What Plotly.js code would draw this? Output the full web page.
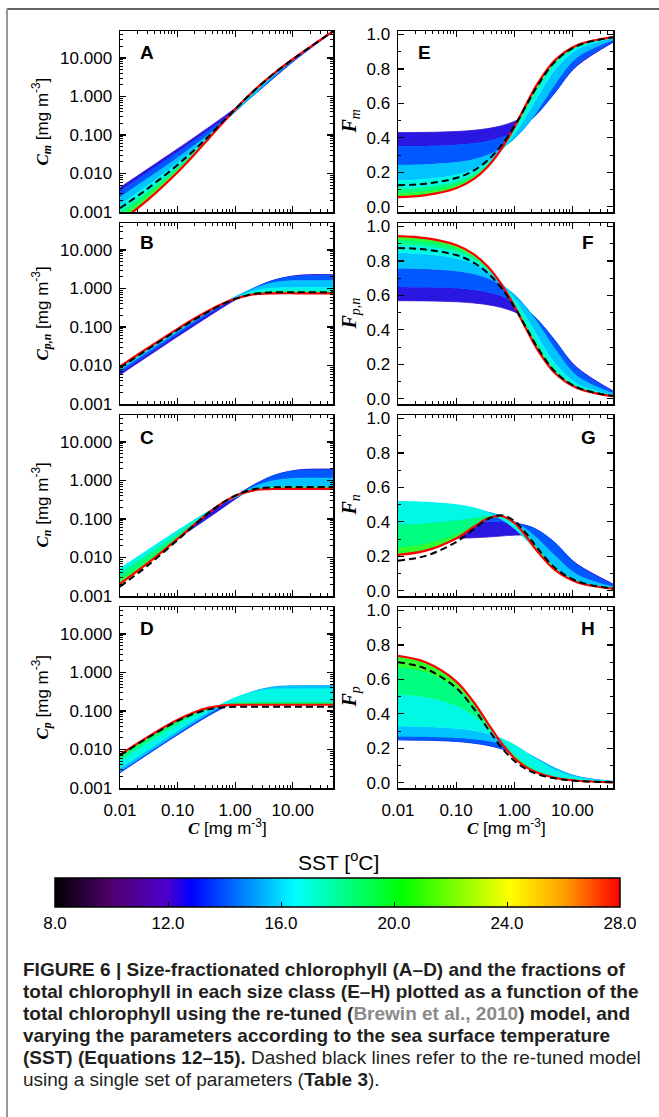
<!DOCTYPE html>
<html><head><meta charset="utf-8">
<script src="https://cdn.plot.ly/plotly-3.0.1.min.js"></script>
<style>html,body{margin:0;padding:0;background:#fff;}#chart{width:659px;height:1117px;}</style>
</head><body><div id="chart"></div>
<script>
// total chlorophyll C [mg m-3] (x axis of every panel)
const chl = [0.01, 0.03, 0.1, 0.2, 0.35, 0.6, 1, 1.6, 2.5, 5, 12, 50];
// SST levels of the drawn curves (last = red curve)
const sstLevels = [11, 13, 15, 16.5, 18, 20, 28];

// Panel A: C_m
const Cm_sst = [
 [0.00431,0.0130,0.0437,0.0888,0.159,0.282,0.495,0.847,1.44,3.37,9.82,47.7],
 [0.00351,0.0106,0.0360,0.0738,0.134,0.243,0.437,0.771,1.35,3.30,9.86,47.8],
 [0.00242,0.00736,0.0258,0.0550,0.105,0.203,0.395,0.748,1.39,3.55,10.4,48.4],
 [0.00153,0.00481,0.0184,0.0430,0.0909,0.196,0.417,0.837,1.59,3.97,10.95,48.95],
 [0.00105,0.00343,0.0146,0.0378,0.0868,0.200,0.445,0.906,1.71,4.15,11.15,49.15],
 [0.000755,0.00260,0.0123,0.0345,0.0839,0.201,0.457,0.936,1.76,4.22,11.22,49.2],
 [0.00056,0.00203,0.0108,0.0321,0.0814,0.201,0.461,0.949,1.78,4.25,11.25,49.25]
];
const Cm_ref = [0.00125,0.00403,0.0167,0.0420,0.0944,0.2135,0.466,0.938,1.75,4.20,11.2,49.2];

// Panel B: C_p,n
const Cpn_sst = [
 [0.00569,0.0170,0.0563,0.111,0.191,0.318,0.505,0.753,1.06,1.63,2.18,2.30],
 [0.00649,0.0194,0.0641,0.126,0.216,0.357,0.563,0.829,1.15,1.70,2.14,2.20],
 [0.00758,0.0226,0.0742,0.145,0.245,0.397,0.605,0.852,1.11,1.45,1.60,1.60],
 [0.00847,0.0252,0.0816,0.157,0.259,0.404,0.583,0.763,0.911,1.03,1.05,1.05],
 [0.00895,0.0266,0.0854,0.162,0.263,0.400,0.555,0.694,0.790,0.846,0.85,0.85],
 [0.00925,0.0274,0.0877,0.165,0.266,0.399,0.543,0.664,0.741,0.778,0.78,0.78],
 [0.00944,0.0280,0.0892,0.168,0.269,0.399,0.539,0.651,0.719,0.748,0.75,0.75]
];
const Cpn_ref = [0.00875,0.0260,0.0834,0.158,0.256,0.387,0.534,0.662,0.749,0.797,0.80,0.80];

// Panel C: C_n
const Cn_sst = [
 [0.00300,0.00904,0.0304,0.0615,0.109,0.191,0.323,0.516,0.781,1.32,1.86,1.98],
 [0.00400,0.0120,0.0401,0.0802,0.140,0.239,0.393,0.608,0.886,1.40,1.84,1.90],
 [0.00489,0.0146,0.0480,0.0941,0.160,0.261,0.402,0.574,0.763,1.02,1.15,1.15],
 [0.00518,0.0154,0.0500,0.0964,0.160,0.250,0.362,0.477,0.575,0.657,0.67,0.67],
 [0.00383,0.0117,0.0406,0.0844,0.152,0.257,0.393,0.525,0.620,0.676,0.68,0.68],
 [0.00251,0.00806,0.0324,0.0753,0.146,0.258,0.395,0.515,0.591,0.628,0.63,0.63],
 [0.00208,0.00700,0.0304,0.0740,0.147,0.261,0.395,0.506,0.574,0.603,0.605,0.605]
];
const Cn_ref = [0.00175,0.00610,0.0283,0.0716,0.146,0.263,0.406,0.534,0.621,0.669,0.672,0.672];

// Panel D: C_p
const Cp_sst = [
 [0.00269,0.00800,0.0259,0.0497,0.0818,0.127,0.182,0.237,0.281,0.316,0.320,0.320],
 [0.00249,0.00741,0.0240,0.0460,0.0759,0.118,0.170,0.221,0.263,0.296,0.300,0.300],
 [0.00269,0.00803,0.0262,0.0509,0.0852,0.136,0.203,0.278,0.350,0.428,0.450,0.450],
 [0.00329,0.00977,0.0316,0.0606,0.0996,0.154,0.221,0.285,0.337,0.375,0.380,0.380],
 [0.00512,0.0149,0.0448,0.0778,0.112,0.143,0.162,0.169,0.170,0.170,0.170,0.170],
 [0.00674,0.0193,0.0553,0.0902,0.120,0.141,0.149,0.150,0.150,0.150,0.150,0.150],
 [0.00736,0.0210,0.0589,0.0938,0.122,0.139,0.144,0.145,0.145,0.145,0.145,0.145]
];
const Cp_ref = [0.00700,0.0199,0.0551,0.0864,0.110,0.124,0.128,0.128,0.128,0.128,0.128,0.128];

// Panel E: F_m
const Fm_sst = [
 [0.431,0.432,0.437,0.444,0.454,0.470,0.495,0.530,0.575,0.673,0.818,0.954],
 [0.351,0.353,0.360,0.369,0.382,0.404,0.437,0.482,0.541,0.661,0.822,0.956],
 [0.242,0.245,0.258,0.275,0.300,0.339,0.395,0.468,0.555,0.710,0.867,0.968],
 [0.153,0.160,0.184,0.215,0.260,0.327,0.417,0.523,0.636,0.794,0.913,0.979],
 [0.105,0.114,0.146,0.189,0.248,0.334,0.445,0.566,0.684,0.831,0.929,0.983],
 [0.076,0.087,0.123,0.173,0.240,0.336,0.457,0.585,0.704,0.844,0.935,0.984],
 [0.056,0.068,0.108,0.161,0.233,0.335,0.461,0.593,0.713,0.850,0.938,0.985]
];
const Fm_ref = [0.125,0.134,0.167,0.210,0.270,0.356,0.466,0.586,0.700,0.841,0.933,0.984];

// Panel F: F_p,n
const Fpn_sst = [
 [0.569,0.568,0.563,0.556,0.546,0.530,0.505,0.471,0.425,0.327,0.182,0.046],
 [0.649,0.647,0.641,0.631,0.618,0.596,0.563,0.518,0.460,0.340,0.178,0.044],
 [0.758,0.755,0.742,0.725,0.700,0.661,0.605,0.532,0.445,0.290,0.133,0.032],
 [0.847,0.840,0.816,0.785,0.740,0.673,0.583,0.477,0.365,0.206,0.088,0.021],
 [0.895,0.886,0.854,0.811,0.752,0.666,0.555,0.434,0.316,0.169,0.071,0.017],
 [0.924,0.914,0.877,0.827,0.760,0.664,0.543,0.415,0.296,0.156,0.065,0.016],
 [0.944,0.932,0.892,0.839,0.767,0.665,0.539,0.407,0.287,0.150,0.063,0.015]
];
const Fpn_ref = [0.875,0.866,0.834,0.790,0.730,0.644,0.534,0.414,0.300,0.159,0.067,0.016];

// Panel G: F_n
const Fn_sst = [
 [0.300,0.301,0.304,0.308,0.312,0.318,0.323,0.322,0.313,0.264,0.155,0.040],
 [0.400,0.400,0.401,0.401,0.401,0.399,0.393,0.380,0.354,0.280,0.153,0.038],
 [0.489,0.487,0.480,0.471,0.457,0.435,0.402,0.359,0.305,0.205,0.095,0.023],
 [0.518,0.514,0.500,0.482,0.456,0.416,0.362,0.298,0.230,0.131,0.056,0.013],
 [0.383,0.389,0.406,0.422,0.433,0.428,0.393,0.328,0.248,0.135,0.057,0.014],
 [0.250,0.269,0.324,0.376,0.417,0.430,0.395,0.322,0.236,0.126,0.053,0.013],
 [0.208,0.233,0.304,0.370,0.420,0.434,0.395,0.316,0.229,0.121,0.050,0.012]
];
const Fn_ref = [0.175,0.203,0.283,0.358,0.416,0.438,0.406,0.334,0.248,0.134,0.056,0.013];

// Panel H: F_p
const Fp_sst = [
 [0.269,0.267,0.259,0.248,0.234,0.212,0.182,0.148,0.113,0.063,0.027,0.006],
 [0.249,0.247,0.240,0.230,0.217,0.197,0.170,0.138,0.105,0.059,0.025,0.006],
 [0.269,0.268,0.262,0.254,0.244,0.227,0.203,0.174,0.140,0.086,0.038,0.009],
 [0.329,0.326,0.316,0.303,0.285,0.257,0.221,0.178,0.135,0.075,0.032,0.008],
 [0.512,0.497,0.448,0.389,0.319,0.238,0.162,0.106,0.068,0.034,0.014,0.003],
 [0.674,0.645,0.553,0.451,0.343,0.234,0.149,0.094,0.060,0.030,0.013,0.003],
 [0.736,0.699,0.589,0.469,0.347,0.231,0.144,0.091,0.058,0.029,0.012,0.003]
];
const Fp_ref = [0.700,0.662,0.551,0.432,0.315,0.206,0.128,0.080,0.051,0.026,0.011,0.003];

// tick labels
const xTickVals = [0.01, 0.1, 1, 10];
const xTickText = ['0.01', '0.10', '1.00', '10.00'];
const xMinorVals = [0.02,0.03,0.04,0.05,0.06,0.07,0.08,0.09,0.2,0.3,0.4,0.5,0.6,0.7,0.8,0.9,2,3,4,5,6,7,8,9,20,30,40];
const cTickVals = [0.001, 0.01, 0.1, 1, 10];
const cTickText = ['0.001', '0.010', '0.100', '1.000', '10.000'];
const cMinorVals = [0.002,0.003,0.004,0.005,0.006,0.007,0.008,0.009,0.02,0.03,0.04,0.05,0.06,0.07,0.08,0.09,0.2,0.3,0.4,0.5,0.6,0.7,0.8,0.9,2,3,4,5,6,7,8,9,20,30,40];
const fTickVals = [0, 0.2, 0.4, 0.6, 0.8, 1.0];
const fTickText = ['0.0', '0.2', '0.4', '0.6', '0.8', '1.0'];
const fMinorVals = [0.1, 0.3, 0.5, 0.7, 0.9];
const sstTickVals = [8, 12, 16, 20, 24, 28];
const sstTickText = ['8.0', '12.0', '16.0', '20.0', '24.0', '28.0'];

// styling
const sstLineColors = ['#4a12c8', '#0a10ff', '#0090ff', '#00f0ff', '#00ffb0', '#10ff10'];
const bandColors = ['#2a18e0', '#0058ff', '#00c4ff', '#00f8e4', '#00ff80', '#30ff30'];
const sstScale = [
  [0, 'rgb(0,0,0)'], [0.1, 'rgb(80,0,110)'], [0.2, 'rgb(75,0,205)'], [0.24, 'rgb(0,0,255)'],
  [0.425, 'rgb(0,255,255)'], [0.615, 'rgb(0,255,0)'], [0.805, 'rgb(255,255,0)'],
  [0.9, 'rgb(255,160,0)'], [1, 'rgb(255,0,0)']
];

const W = 659, H = 1117;
const px = v => v / W;
const py = v => 1 - v / H;

const traces = [];
function addPanel(xa, ya, curves, ref) {
  const base = {x: chl, xaxis: xa, yaxis: ya, mode: 'lines', hoverinfo: 'skip', showlegend: false};
  traces.push(Object.assign({}, base, {y: curves[0], line: {color: sstLineColors[0], width: 0.8, shape: 'spline'}}));
  for (let i = 0; i < 6; i++) {
    traces.push(Object.assign({}, base, {y: curves[i], line: {color: 'rgba(0,0,0,0)', width: 0, shape: 'spline'}}));
    const lc = i < 5 ? sstLineColors[i + 1] : 'rgba(0,0,0,0)';
    traces.push(Object.assign({}, base, {y: curves[i + 1], fill: 'tonexty', fillcolor: bandColors[i],
      line: {color: lc, width: i < 5 ? 0.8 : 0, shape: 'spline'}}));
  }
  traces.push(Object.assign({}, base, {y: curves[6], line: {color: '#ff0000', width: 2.2, shape: 'spline'}}));
  traces.push(Object.assign({}, base, {y: ref, line: {color: '#000000', width: 2, dash: '7px,4px', shape: 'spline'}}));
}

addPanel('x', 'y', Cm_sst, Cm_ref);
addPanel('x2', 'y2', Fm_sst, Fm_ref);
addPanel('x3', 'y3', Cpn_sst, Cpn_ref);
addPanel('x4', 'y4', Fpn_sst, Fpn_ref);
addPanel('x5', 'y5', Cn_sst, Cn_ref);
addPanel('x6', 'y6', Fn_sst, Fn_ref);
addPanel('x7', 'y7', Cp_sst, Cp_ref);
addPanel('x8', 'y8', Fp_sst, Fp_ref);

// colour bar carrier
traces.push({x: [0.02, 0.03], y: [5, 5], xaxis: 'x2', yaxis: 'y2', mode: 'markers', hoverinfo: 'skip', showlegend: false,
  marker: {size: 1, opacity: 0, color: [8, 28], cmin: 8, cmax: 28, colorscale: sstScale, showscale: true,
    colorbar: {orientation: 'h', x: px(55), xanchor: 'left', y: py(878), yanchor: 'top',
      len: 565, lenmode: 'pixels', thickness: 29, thicknessmode: 'pixels', xpad: 0, ypad: 0,
      outlinewidth: 1.5, outlinecolor: '#000', tickmode: 'array', tickvals: sstTickVals, ticktext: sstTickText,
      ticks: 'inside', ticklen: 5, tickcolor: '#000', tickwidth: 1, tickfont: {size: 17, color: '#000'},
      ticklabelstandoff: 8,
      minor: {tickmode: 'array', tickvals: [10, 14, 18, 22, 26], ticks: 'inside', ticklen: 5, tickcolor: '#000'}}}});

const leftX = [px(120), px(333)];
const rightX = [px(398), px(613)];
const rows = [[31, 212], [223, 404], [415, 596], [607, 788]];

function xAxis(domain, anchor, labels) {
  return {type: 'log', domain: domain, anchor: anchor, range: [-2, 1.7], showline: true, linecolor: '#000', linewidth: 1.5,
    mirror: 'allticks', ticks: 'inside', ticklen: 6, tickwidth: 1.2, tickcolor: '#000', tickmode: 'array',
    tickvals: xTickVals, ticktext: xTickText, showticklabels: labels, tickfont: {size: 17, color: '#000'},
    ticklabelstandoff: 6,
    minor: {tickmode: 'array', tickvals: xMinorVals, ticks: 'inside', ticklen: 3, tickcolor: '#000', tickwidth: 1},
    showgrid: false, zeroline: false, fixedrange: true};
}
function yLogAxis(row, anchor) {
  return {type: 'log', domain: [py(rows[row][1]), py(rows[row][0])], anchor: anchor, range: [-3, 1.7],
    showline: true, linecolor: '#000', linewidth: 1.5, mirror: 'allticks', ticks: 'inside', ticklen: 6, tickwidth: 1.2,
    tickcolor: '#000', tickmode: 'array', tickvals: cTickVals, ticktext: cTickText, tickfont: {size: 17, color: '#000'},
    ticklabelstandoff: 3,
    minor: {tickmode: 'array', tickvals: cMinorVals, ticks: 'inside', ticklen: 3, tickcolor: '#000', tickwidth: 1},
    showgrid: false, zeroline: false, fixedrange: true};
}
function yLinAxis(row, anchor) {
  return {domain: [py(rows[row][1]), py(rows[row][0])], anchor: anchor, range: [-0.03, 1.02],
    showline: true, linecolor: '#000', linewidth: 1.5, mirror: 'allticks', ticks: 'inside', ticklen: 6, tickwidth: 1.2,
    tickcolor: '#000', tickmode: 'array', tickvals: fTickVals, ticktext: fTickText, tickfont: {size: 17, color: '#000'},
    ticklabelstandoff: 3,
    minor: {tickmode: 'array', tickvals: fMinorVals, ticks: 'inside', ticklen: 3, tickcolor: '#000', tickwidth: 1},
    showgrid: false, zeroline: false, fixedrange: true};
}

const serif = "font-family:'Liberation Serif',serif";
const unit = " [mg m<sup>-3</sup>]";
const leftTitles = [
  `<span style="${serif}"><b><i>C</i></b><sub><b><i>m</i></b></sub></span>` + unit,
  `<span style="${serif}"><b><i>C</i></b><sub><b><i>p,n</i></b></sub></span>` + unit,
  `<span style="${serif}"><b><i>C</i></b><sub><b><i>n</i></b></sub></span>` + unit,
  `<span style="${serif}"><b><i>C</i></b><sub><b><i>p</i></b></sub></span>` + unit
];
const rightTitles = [
  `<span style="${serif}"><b><i>F</i></b><sub><i>m</i></sub></span>`,
  `<span style="${serif}"><b><i>F</i></b><sub><i>p,n</i></sub></span>`,
  `<span style="${serif}"><b><i>F</i></b><sub><i>n</i></sub></span>`,
  `<span style="${serif}"><b><i>F</i></b><sub><i>p</i></sub></span>`
];
const leftLetters = ['A', 'B', 'C', 'D'];
const rightLetters = ['E', 'F', 'G', 'H'];
const letterPos = [[147, 53, 425, 52], [147, 242, 588, 242], [147, 437, 588, 437], [147, 628, 588, 628]];

const annotations = [];
for (let r = 0; r < 4; r++) {
  const mid = (rows[r][0] + rows[r][1]) / 2;
  annotations.push({text: leftTitles[r], x: px(42), y: py(mid), xref: 'paper', yref: 'paper', showarrow: false,
    textangle: -90, font: {size: 17, color: '#000'}, xanchor: 'center', yanchor: 'middle'});
  annotations.push({text: rightTitles[r], x: px(350), y: py(mid), xref: 'paper', yref: 'paper', showarrow: false,
    textangle: -90, font: {size: 20, color: '#000'}, xanchor: 'center', yanchor: 'middle'});
  annotations.push({text: '<b>' + leftLetters[r] + '</b>', x: px(letterPos[r][0]), y: py(letterPos[r][1]), xref: 'paper', yref: 'paper',
    showarrow: false, font: {size: 19, color: '#000'}, xanchor: 'center', yanchor: 'middle'});
  annotations.push({text: '<b>' + rightLetters[r] + '</b>', x: px(letterPos[r][2]), y: py(letterPos[r][3]), xref: 'paper', yref: 'paper',
    showarrow: false, font: {size: 19, color: '#000'}, xanchor: 'center', yanchor: 'middle'});
}
const xTitle = `<span style="${serif}"><b><i>C</i></b></span>` + unit;
annotations.push({text: xTitle, x: px(227), y: py(827), xref: 'paper', yref: 'paper', showarrow: false,
  xanchor: 'center', yanchor: 'middle', font: {size: 17, color: '#000'}});
annotations.push({text: xTitle, x: px(506), y: py(827), xref: 'paper', yref: 'paper', showarrow: false,
  xanchor: 'center', yanchor: 'middle', font: {size: 17, color: '#000'}});
annotations.push({text: 'SST [<sup>o</sup>C]', x: px(338), y: py(861), xref: 'paper', yref: 'paper', showarrow: false,
  xanchor: 'center', yanchor: 'middle', font: {size: 21, color: '#000'}});

const captionLines = [
  '<b>FIGURE 6 | Size-fractionated chlorophyll (A–D) and the fractions of</b>',
  '<b>total chlorophyll in each size class (E–H) plotted as a function of the</b>',
  '<b>total chlorophyll using the re-tuned (</b><span style="color:#8a8a8a"><b>Brewin et al., 2010</b></span><b>) model, and</b>',
  '<b>varying the parameters according to the sea surface temperature</b>',
  '<b>(SST) (Equations 12–15).</b> Dashed black lines refer to the re-tuned model',
  'using a single set of parameters (<b>Table 3</b>).'
];
const captionY = [969, 991, 1013, 1035, 1057, 1079];
captionLines.forEach((t, i) => {
  annotations.push({text: t, x: px(21), y: py(captionY[i]), xref: 'paper', yref: 'paper', showarrow: false,
    xanchor: 'left', yanchor: 'middle', align: 'left', font: {size: 19, color: '#231f20'}});
});

const layout = {
  width: W, height: H, margin: {l: 0, r: 0, t: 0, b: 0}, paper_bgcolor: '#fff', plot_bgcolor: '#fff',
  showlegend: false, hovermode: false,
  font: {family: "'Liberation Sans', Arial, sans-serif", color: '#000'},
  xaxis: xAxis(leftX, 'y', false), yaxis: yLogAxis(0, 'x'),
  xaxis2: xAxis(rightX, 'y2', false), yaxis2: yLinAxis(0, 'x2'),
  xaxis3: xAxis(leftX, 'y3', false), yaxis3: yLogAxis(1, 'x3'),
  xaxis4: xAxis(rightX, 'y4', false), yaxis4: yLinAxis(1, 'x4'),
  xaxis5: xAxis(leftX, 'y5', false), yaxis5: yLogAxis(2, 'x5'),
  xaxis6: xAxis(rightX, 'y6', false), yaxis6: yLinAxis(2, 'x6'),
  xaxis7: xAxis(leftX, 'y7', true), yaxis7: yLogAxis(3, 'x7'),
  xaxis8: xAxis(rightX, 'y8', true), yaxis8: yLinAxis(3, 'x8'),
  annotations: annotations,
  shapes: [
    {type: 'line', xref: 'paper', yref: 'paper', x0: px(7), x1: 1, y0: py(9), y1: py(9), line: {color: '#333', width: 1.5}},
    {type: 'line', xref: 'paper', yref: 'paper', x0: px(7), x1: px(7), y0: py(9), y1: 0, line: {color: '#999', width: 2}}
  ]
};

Plotly.newPlot('chart', traces, layout, {staticPlot: true});
</script>
</body></html>
